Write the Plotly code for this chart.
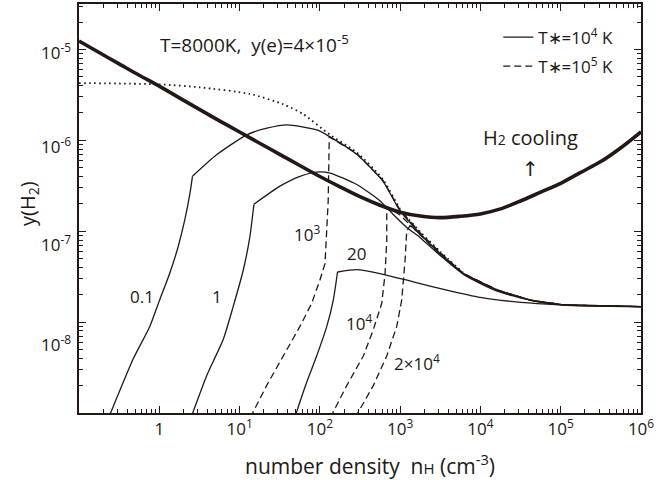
import math
import plotly.graph_objects as go

INK = "#231815"
FONT = "Open Sans"

# ---- data (density n_H in cm^-3, y(H2)) ----
# thick "H2 cooling" curve
cool_n = [0.1, 0.178, 0.316, 0.562, 1, 1.78, 3.16, 5.62, 10, 17.8, 31.6, 56.2, 100, 178, 316,
          562, 1000, 1780, 3160, 5620, 10000, 17800, 31600, 56200, 1e5, 1.78e5, 3.16e5,
          5.62e5, 1e6]
cool_y = [1.24e-5, 9.25e-6, 6.94e-6, 5.2e-6, 3.95e-6, 2.93e-6, 2.19e-6, 1.64e-6, 1.235e-6,
          9.3e-7, 7.01e-7, 5.29e-7, 4.0e-7, 3.08e-7, 2.4e-7, 1.93e-7, 1.62e-7, 1.47e-7,
          1.41e-7, 1.46e-7, 1.55e-7, 1.76e-7, 2.15e-7, 2.69e-7, 3.37e-7, 4.44e-7, 5.84e-7,
          8.3e-7, 1.24e-6]

# dotted curve
dot_n = [0.1, 1, 3.2, 13.5, 34.7, 61.5, 134, 290, 612, 998, 1770, 3150, 6100]
dot_y = [4.27e-6, 4.13e-6, 3.83e-6, 3.24e-6, 2.5e-6, 1.95e-6, 1.15e-6, 7.33e-7, 3.72e-7,
         1.76e-7, 9.9e-8, 5.98e-8, 3.5e-8]

# solid T*=1e4 K, label 0.1
s01_rise_n = [0.234, 0.265, 0.471, 0.762, 1.01, 1.35, 1.71, 2.08, 2.40, 2.59]
s01_rise_y = [8.9e-10, 1.16e-9, 3.9e-9, 8.97e-9, 1.75e-8, 3.45e-8, 6.67e-8, 1.34e-7,
              2.56e-7, 4.02e-7]
s01_top_n = [2.59, 5.21, 12.3, 21.9, 38.9, 92.0, 134, 290, 612, 998, 1770, 3150, 6100,
             16200, 41700, 1.08e5, 3.16e5, 1e6]
s01_top_y = [4.02e-7, 6.97e-7, 1.15e-6, 1.36e-6, 1.48e-6, 1.30e-6, 1.09e-6, 6.97e-7,
             3.54e-7, 1.67e-7, 9.4e-8, 5.69e-8, 3.44e-8, 2.25e-8, 1.75e-8, 1.55e-8, 1.51e-8,
             1.48e-8]

# solid, label 1
s1_rise_n = [2.48, 2.64, 3.88, 6.25, 8.32, 11.1, 13.4, 15.1]
s1_rise_y = [8.9e-10, 1.03e-9, 2.56e-9, 6.43e-9, 1.48e-8, 3.72e-8, 8.57e-8, 1.98e-7]
s1_top_n = [15.1, 31.8, 56.5, 91.2, 134, 288, 564, 815, 1210, 1780, 3160, 6300, 15800,
            41700, 1.07e5, 1e6]
s1_top_y = [1.98e-7, 3.13e-7, 4.02e-7, 4.48e-7, 4.37e-7, 3.27e-7, 2.15e-7, 1.54e-7,
            1.10e-7, 8.5e-8, 5.4e-8, 3.3e-8, 2.21e-8, 1.74e-8, 1.54e-8, 1.48e-8]

# solid, label 20
s20_rise_n = [48.8, 51.4, 68.4, 91.2, 122, 147, 166]
s20_rise_y = [8.9e-10, 1.03e-9, 2.17e-9, 4.24e-9, 8.97e-9, 1.75e-8, 3.56e-8]
s20_top_n = [166, 288, 561, 1460, 3810, 9910, 25800, 67300, 3.16e5, 1e6]
s20_top_y = [3.56e-8, 3.78e-8, 3.42e-8, 2.77e-8, 2.25e-8, 1.87e-8, 1.68e-8, 1.58e-8,
             1.51e-8, 1.48e-8]

# dashed T*=1e5 K, label 10^3
d1e3_n = [13.6, 14.8, 21.7, 35.0, 56.5, 79.1, 100, 116, 127, 131, 290, 612, 998, 1770,
          3150, 6100, 16200, 41700, 1.08e5, 1e6]
d1e3_y = [8.9e-10, 1.03e-9, 2.0e-9, 4.24e-9, 8.97e-9, 1.61e-8, 2.89e-8, 4.43e-8, 2.15e-7,
          1.09e-6, 7.14e-7, 3.63e-7, 1.71e-7, 9.64e-8, 5.83e-8, 3.45e-8, 2.26e-8, 1.75e-8,
          1.55e-8, 1.48e-8]

# dashed, label 10^4
d1e4_n = [136, 147, 216, 348, 463, 590, 649, 681, 681, 998, 1770, 3150, 6100, 16200,
          41700, 1.08e5, 1e6]
d1e4_y = [8.9e-10, 1.03e-9, 2.0e-9, 4.24e-9, 8.26e-9, 1.61e-8, 3.42e-8, 7.88e-8, 1.85e-7,
          1.51e-7, 9.16e-8, 5.55e-8, 3.4e-8, 2.25e-8, 1.75e-8, 1.55e-8, 1.48e-8]

# dashed, label 2x10^4
d2e4_n = [275, 301, 463, 681, 907, 1047, 1151, 1208, 1327, 1770, 3150, 6100, 16200, 41700,
          1.08e5, 1e6]
d2e4_y = [8.9e-10, 1.03e-9, 2.0e-9, 4.24e-9, 8.97e-9, 1.75e-8, 4.78e-8, 1.01e-7, 1.15e-7,
          9.3e-8, 5.6e-8, 3.42e-8, 2.25e-8, 1.75e-8, 1.55e-8, 1.48e-8]

x_tickvals = [1, 10, 100, 1000, 1e4, 1e5, 1e6]
x_ticktext = ["1", "10<sup>1</sup>", "10<sup>2</sup>", "10<sup>3</sup>",
              "10<sup>4</sup>", "10<sup>5</sup>", "10<sup>6</sup>"]
y_tickvals = [1e-5, 1e-6, 1e-7, 1e-8]
y_ticktext = ["10<sup>-5</sup>", "10<sup>-6</sup>", "10<sup>-7</sup>", "10<sup>-8</sup>"]
y_label_shift = [-2, -5, -12, -21]

x_minor = [m * 10 ** k for k in range(-1, 6) for m in range(2, 10)]
y_minor = [m * 10 ** k for k in range(-9, -4) for m in range(2, 10)]

fig = go.Figure()

thin = 1.3
dash_style = "7px,4px"


def add(xs, ys, dash="solid", width=thin, shape="spline", smooth=0.6, **kw):
    fig.add_trace(go.Scatter(x=xs, y=ys, mode="lines",
                             line=dict(color=INK, width=width, dash=dash, shape=shape,
                                       smoothing=smooth),
                             showlegend=kw.pop("showlegend", False), **kw))


add(dot_n, dot_y, dash="1.6px,3.4px", width=1.8)
add(s01_rise_n, s01_rise_y, name="T∗=10<sup>4</sup> K", legendgroup="a", showlegend=True)
add(s01_top_n, s01_top_y)
add(s1_rise_n, s1_rise_y)
add(s1_top_n, s1_top_y)
add(s20_rise_n, s20_rise_y)
add(s20_top_n, s20_top_y)
add(d1e3_n, d1e3_y, dash=dash_style, shape="linear", name="T∗=10<sup>5</sup> K",
    legendgroup="b", showlegend=True)
add(d1e4_n, d1e4_y, dash=dash_style, shape="linear")
add(d2e4_n, d2e4_y, dash=dash_style, shape="linear")
add(cool_n, cool_y, width=3.6, smooth=0.8)

axis_common = dict(type="log", showline=True, linecolor=INK, linewidth=2, mirror="allticks",
                   ticks="inside", ticklen=7, tickwidth=1.3, tickcolor=INK, showgrid=False,
                   zeroline=False)

fig.update_xaxes(range=[-1, 6], tickvals=x_tickvals, ticktext=x_ticktext,
                 tickfont=dict(family=FONT, size=17, color=INK),
                 minor=dict(tickvals=x_minor, ticks="inside", ticklen=4, tickwidth=1,
                            tickcolor=INK, showgrid=False),
                 **axis_common)
fig.update_yaxes(range=[-9, -4.5], tickvals=y_tickvals, showticklabels=False,
                 minor=dict(tickvals=y_minor, ticks="inside", ticklen=4, tickwidth=1,
                            tickcolor=INK, showgrid=False),
                 **axis_common)

ann = []
for v, t, s in zip(y_tickvals, y_ticktext, y_label_shift):
    ann.append(dict(x=0, xref="paper", y=math.log10(v), yref="y", text=t,
                    showarrow=False, xanchor="right", yanchor="middle", xshift=-6, yshift=s,
                    font=dict(family=FONT, size=17, color=INK)))

labels = [("0.1", 0.605, 10 ** -7.713), ("1", 5.16, 10 ** -7.72),
          ("10<sup>3</sup>", 69.2, 10 ** -7.02), ("20", 288, 10 ** -7.248),
          ("10<sup>4</sup>", 308, 10 ** -8.008), ("2×10<sup>4</sup>", 1610, 10 ** -8.445)]
for t, xv, yv in labels:
    ann.append(dict(x=math.log10(xv), y=math.log10(yv), xref="x", yref="y", text=t,
                    showarrow=False, xanchor="center", yanchor="middle",
                    font=dict(family=FONT, size=17, color=INK)))

ann.append(dict(x=math.log10(41700), y=-5.966, xref="x", yref="y",
                text="H<span style='font-size:14px'>2</span> cooling", showarrow=False,
                xanchor="center", yanchor="middle",
                font=dict(family=FONT, size=20, color=INK)))
ann.append(dict(x=math.log10(41700), y=-6.31, xref="x", yref="y", text="↑", showarrow=False,
                xanchor="center", yanchor="middle",
                font=dict(family="DejaVu Sans", size=20, color=INK)))
ann.append(dict(x=-0.019, y=-4.94, xref="x", yref="y", xanchor="left", yanchor="middle",
                text="T=8000K,  y(e)=4×10<sup>-5</sup>", showarrow=False,
                font=dict(family=FONT, size=19, color=INK)))
ann.append(dict(x=0.518, y=-0.1265, xref="paper", yref="paper", xanchor="center",
                yanchor="middle",
                text="number density  n<span style='font-size:15px'>H</span> (cm<sup>-3</sup>)",
                showarrow=False, font=dict(family=FONT, size=21, color=INK)))
ann.append(dict(x=-0.0907, y=0.511, xref="paper", yref="paper", textangle=-90,
                xanchor="center", yanchor="middle",
                text="y(H<sub>2</sub>)", showarrow=False,
                font=dict(family=FONT, size=20, color=INK)))

fig.update_layout(
    width=670, height=480,
    margin=dict(l=79, r=29, t=2, b=67),
    paper_bgcolor="white", plot_bgcolor="white",
    annotations=ann,
    legend=dict(x=0.746, y=0.962, xanchor="left", yanchor="top", bgcolor="rgba(0,0,0,0)",
                font=dict(family=FONT, size=17, color=INK), tracegroupgap=4,
                itemwidth=30),
)

fig.write_html("out.html")
